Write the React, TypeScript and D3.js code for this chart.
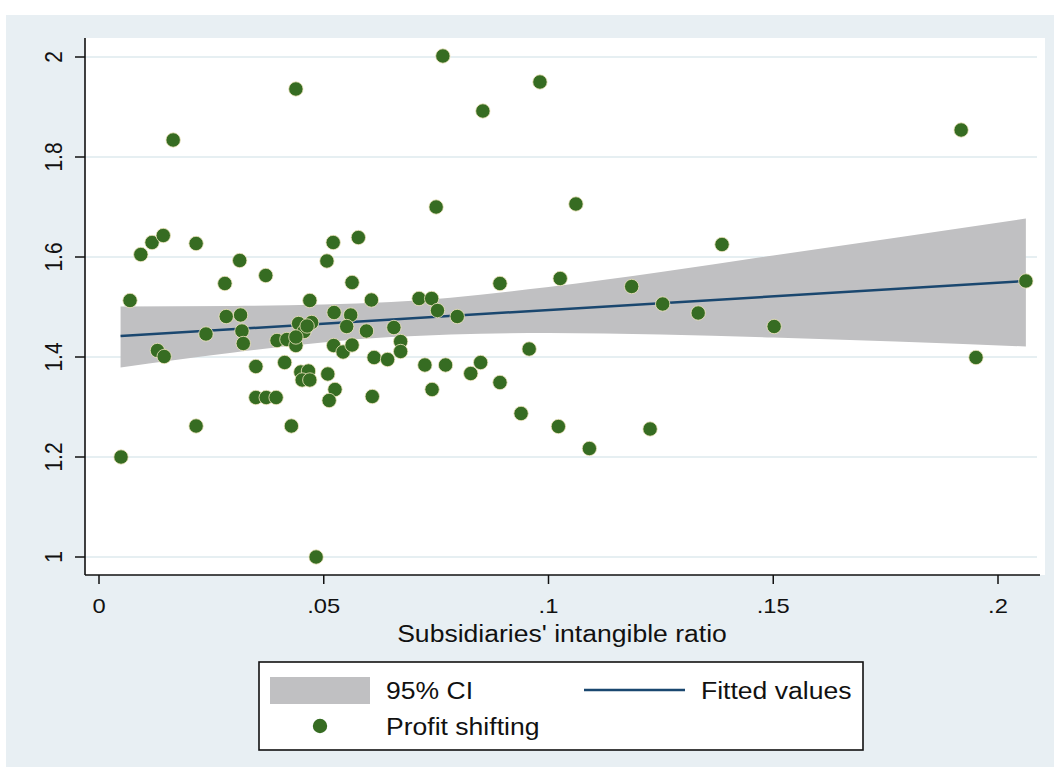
import React from "react";
import * as d3 from "d3";

// scatter: subsidiaries' intangible ratio vs profit shifting
const ratioX = [
  0.0049, 0.0069, 0.0093, 0.0118, 0.0143, 0.0165, 0.013, 0.0145, 0.0216, 0.0216,
  0.0238, 0.028, 0.0313, 0.0371, 0.0283, 0.0315, 0.0318, 0.0321, 0.0349, 0.0349,
  0.0372, 0.0394, 0.0413, 0.0396, 0.0418, 0.0428, 0.0438, 0.0444, 0.0473, 0.0456,
  0.0463, 0.0438, 0.0449, 0.0466, 0.0452, 0.0469, 0.0469, 0.0507, 0.0521, 0.0577,
  0.0563, 0.0523, 0.056, 0.0551, 0.0595, 0.0606, 0.0522, 0.0543, 0.0563, 0.0612,
  0.0509, 0.0525, 0.0512, 0.0608, 0.0483, 0.0765, 0.0438, 0.0854, 0.0981, 0.075,
  0.1061, 0.1918, 0.0712, 0.074, 0.0753, 0.0797, 0.0656, 0.0671, 0.0671, 0.0642,
  0.0725, 0.0771, 0.0741, 0.0849, 0.0827, 0.0892, 0.0892, 0.0957, 0.0939, 0.1026,
  0.1022, 0.1091, 0.1185, 0.1254, 0.1226, 0.1386, 0.1333, 0.1502, 0.1951, 0.2062,
];
const profitY = [
  1.2, 1.513, 1.605, 1.629, 1.643, 1.834, 1.413, 1.401, 1.627, 1.262,
  1.446, 1.547, 1.593, 1.563, 1.481, 1.484, 1.452, 1.427, 1.381, 1.319,
  1.319, 1.319, 1.389, 1.433, 1.435, 1.262, 1.423, 1.467, 1.469, 1.451,
  1.462, 1.44, 1.37, 1.372, 1.354, 1.354, 1.513, 1.592, 1.629, 1.639,
  1.549, 1.489, 1.484, 1.461, 1.452, 1.514, 1.423, 1.41, 1.424, 1.399,
  1.366, 1.335, 1.313, 1.321, 1.0, 2.002, 1.936, 1.892, 1.95, 1.7,
  1.706, 1.854, 1.517, 1.517, 1.493, 1.481, 1.459, 1.431, 1.411, 1.395,
  1.384, 1.384, 1.335, 1.389, 1.367, 1.547, 1.349, 1.416, 1.287, 1.557,
  1.261, 1.217, 1.541, 1.506, 1.256, 1.625, 1.488, 1.461, 1.399, 1.552,
];

// fitted line and 95% CI band
const fitX = [0.0048, 0.2062];
const fitY = [1.442, 1.552];
const ciX = [0.0048, 0.03, 0.065, 0.1, 0.125, 0.15, 0.2062];
const ciLow = [1.379, 1.409, 1.44, 1.448, 1.445, 1.439, 1.421];
const ciHigh = [1.501, 1.502, 1.51, 1.54, 1.57, 1.603, 1.677];

const xTicks = [0, 0.05, 0.1, 0.15, 0.2];
const xTickLabels = ["0", ".05", ".1", ".15", ".2"];
const yTicks = [1, 1.2, 1.4, 1.6, 1.8, 2];
const yTickLabels = ["1", "1.2", "1.4", "1.6", "1.8", "2"];

const W = 1054;
const H = 767;
const plot = { left: 85, right: 1045, top: 38, bottom: 575 };
const font = "'Liberation Sans', Arial, sans-serif";
const green = "#366c22";
const navy = "#1a476f";
const band = "#c0c0c2";
const ink = "#111";
const stretch = 1.13; // the original's lettering is a little wider than Arial

const Label = ({ x, y, size, anchor = "start", children }) => (
  <text
    transform={`translate(${x} ${y}) scale(${stretch} 1)`}
    textAnchor={anchor}
    fontFamily={font}
    fontSize={size}
    fill={ink}
  >
    {children}
  </text>
);

const App = () => {
  const x = d3.scaleLinear().domain([0, 0.2]).range([99, 998]);
  const y = d3.scaleLinear().domain([1, 2]).range([557, 57]);

  const area = d3
    .area<number>()
    .x((d, i) => x(ciX[i]))
    .y0((d, i) => y(ciLow[i]))
    .y1((d, i) => y(ciHigh[i]))
    .curve(d3.curveMonotoneX);
  const line = d3
    .line<number>()
    .x((d, i) => x(fitX[i]))
    .y((d) => y(d));

  return (
    <div style={{ position: "absolute", left: 0, top: 0 }}>
      <svg width={W} height={H} style={{ display: "block" }}>
        <rect x={0} y={0} width={W} height={H} fill="#ffffff" />
        <rect x={6} y={15} width={W - 6} height={H - 15} fill="#e8eff3" />
        <rect
          x={plot.left}
          y={plot.top}
          width={plot.right - plot.left}
          height={plot.bottom - plot.top}
          fill="#ffffff"
        />
        {yTicks.map((t) => (
          <line
            key={"g" + t}
            x1={plot.left}
            x2={plot.right - 8}
            y1={y(t)}
            y2={y(t)}
            stroke="#e6eff2"
            strokeWidth={2}
          />
        ))}
        <path d={area(ciX) || ""} fill={band} />
        <path d={line(fitY) || ""} fill="none" stroke={navy} strokeWidth={2.5} />
        {ratioX.map((v, i) => (
          <circle
            key={i}
            cx={x(v)}
            cy={y(profitY[i])}
            r={7.2}
            fill={green}
            stroke="#f1e6c0"
            strokeWidth={0.8}
          />
        ))}
        {/* axes */}
        <line x1={plot.left} x2={plot.left} y1={plot.top} y2={plot.bottom} stroke={ink} strokeWidth={1.6} />
        <line x1={plot.left} x2={1040} y1={plot.bottom} y2={plot.bottom} stroke={ink} strokeWidth={1.6} />
        {yTicks.map((t, i) => (
          <g key={"y" + t}>
            <line x1={plot.left - 10} x2={plot.left} y1={y(t)} y2={y(t)} stroke={ink} strokeWidth={1.5} />
            <text
              transform={`translate(62 ${y(t)}) scale(${stretch} 1) rotate(-90)`}
              textAnchor="middle"
              fontFamily={font}
              fontSize={21}
              fill={ink}
            >
              {yTickLabels[i]}
            </text>
          </g>
        ))}
        {xTicks.map((t, i) => (
          <g key={"x" + t}>
            <line x1={x(t)} x2={x(t)} y1={plot.bottom} y2={plot.bottom + 9} stroke={ink} strokeWidth={1.5} />
            <Label x={x(t)} y={613} size={21} anchor="middle">
              {xTickLabels[i]}
            </Label>
          </g>
        ))}
        <Label x={562} y={642} size={23.5} anchor="middle">
          Subsidiaries' intangible ratio
        </Label>
        {/* legend */}
        <rect x={259} y={662} width={604} height={88} fill="#ffffff" stroke={ink} strokeWidth={1.6} />
        <rect x={270} y={677} width={100} height={27} fill={band} />
        <Label x={386} y={699} size={23.5}>95% CI</Label>
        <line x1={584} x2={685} y1={690} y2={690} stroke={navy} strokeWidth={2.5} />
        <Label x={701} y={699} size={23.5}>Fitted values</Label>
        <circle cx={320} cy={726} r={7.2} fill={green} />
        <Label x={386} y={735} size={23.5}>Profit shifting</Label>
      </svg>
    </div>
  );
};

export default App;
